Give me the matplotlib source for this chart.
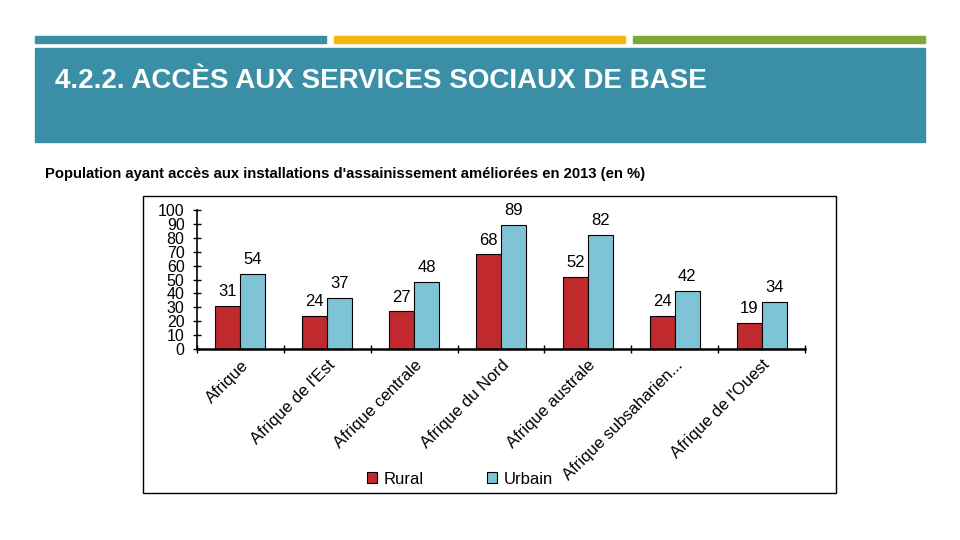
import matplotlib
matplotlib.use("Agg")
import matplotlib.pyplot as plt
from matplotlib.patches import Rectangle
from matplotlib import font_manager
import numpy as np

categories = ["Afrique", "Afrique de l'Est", "Afrique centrale", "Afrique du Nord",
              "Afrique australe", "Afrique subsaharien...", "Afrique de l'Ouest"]
rural = [31, 24, 27, 68, 52, 24, 19]
urbain = [54, 37, 48, 89, 82, 42, 34]
yticks = list(range(0, 101, 10))

names = {f.name for f in font_manager.fontManager.ttflist}
narrow = "Liberation Sans Narrow" if "Liberation Sans Narrow" in names else "Liberation Sans"
plt.rcParams['font.family'] = [narrow, 'DejaVu Sans']

W, H = 960, 540
fig = plt.figure(figsize=(9.6, 5.4), dpi=100)

def fx(x): return x / W
def fy(y): return 1 - y / H

# header bars
for x0, x1, c in [(35, 326, '#3A8FA6'), (334, 625, '#F5B70F'), (633, 925, '#7FA83A')]:
    fig.patches.append(Rectangle((fx(x0), fy(43)), fx(x1 - x0), (43 - 36) / H,
                                 transform=fig.transFigure, color=c, zorder=-1))
fig.patches.append(Rectangle((fx(35), fy(142)), fx(925 - 35), (142 - 48) / H,
                             transform=fig.transFigure, color='#3A8FA6', zorder=-1))
fig.text(fx(55), fy(81), "4.2.2. ACCÈS AUX SERVICES SOCIAUX DE BASE", color='white',
         fontsize=20, fontweight='bold', va='center', ha='left',
         family=['Liberation Sans', 'DejaVu Sans'])
fig.text(fx(45), fy(174), "Population ayant accès aux installations d'assainissement améliorées en 2013 (en %)",
         color='black', fontsize=10.7, fontweight='bold', va='center', ha='left',
         family=['Liberation Sans', 'DejaVu Sans'])

# chart box
fig.patches.append(Rectangle((fx(143), fy(493)), fx(836 - 143), (493 - 196) / H,
                             transform=fig.transFigure, facecolor='white',
                             edgecolor='black', linewidth=1, zorder=-1))

ax = fig.add_axes([fx(197), fy(349), fx(805 - 197), (349 - 210) / H])
ax.set_zorder(3)
ax.set_facecolor('none')
x = np.arange(len(categories))
bw = 0.288
red = '#C0292D'
blue = '#7EC3D6'
b1 = ax.bar(x - bw / 2, rural, bw, color=red, edgecolor='black', linewidth=0.8, label='Rural')
b2 = ax.bar(x + bw / 2, urbain, bw, color=blue, edgecolor='black', linewidth=0.8, label='Urbain')
for rects, vals in [(b1, rural), (b2, urbain)]:
    for r, v in zip(rects, vals):
        ax.annotate(str(v), (r.get_x() + r.get_width() / 2, v), xytext=(0, 5),
                    textcoords='offset points', ha='center', va='bottom', fontsize=12)

ax.set_xlim(-0.5, len(categories) - 0.5)
ax.set_ylim(0, 100)
ax.set_yticks(yticks)
ax.set_yticklabels([str(t) for t in yticks], fontsize=11.5)
ax.tick_params(axis='y', direction='inout', length=6, width=1, pad=6)
ax.set_xticks(x)
ax.set_xticklabels(categories, rotation=45, ha='right', va='top', rotation_mode='anchor', fontsize=12)
ax.tick_params(axis='x', length=0, pad=6)
ax.set_xticks(np.arange(-0.5, len(categories), 1), minor=True)
ax.tick_params(axis='x', which='minor', direction='inout', length=6, width=1)
for s in ['top', 'right']:
    ax.spines[s].set_visible(False)
ax.spines['left'].set_linewidth(1.2)
ax.spines['bottom'].set_linewidth(1.8)

leg = fig.legend(handles=[b1, b2], labels=['Rural', 'Urbain'], loc='center',
                 bbox_to_anchor=(fx(460), fy(479)), ncol=2, frameon=False,
                 fontsize=12, handlelength=0.6, handleheight=0.6,
                 columnspacing=3.8, handletextpad=0.4)
leg.set_zorder(4)

fig.savefig("out.png", dpi=100)
